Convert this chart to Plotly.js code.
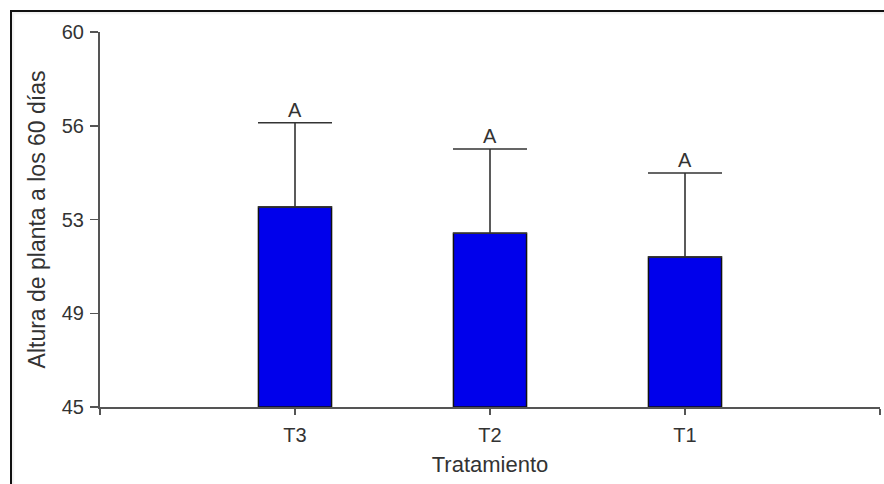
<!DOCTYPE html>
<html>
<head>
<meta charset="utf-8">
<script src="https://cdn.plot.ly/plotly-3.0.1.min.js"></script>
<style>
  html, body { margin: 0; padding: 0; background: #fff; }
  #wrap { position: relative; width: 884px; height: 484px; overflow: hidden; }
  #chart { width: 884px; height: 484px; }
  #frame { position: absolute; left: 10px; top: 10px; width: 900px; height: 500px;
           border-top: 2px solid #111; border-left: 2px solid #111; pointer-events: none;
           box-shadow: inset 2px 2px 2px rgba(0,0,0,0.06); }
</style>
</head>
<body>
<div id="wrap">
  <div id="chart"></div>
  <div id="frame"></div>
</div>
<script>
// Data
const categories = ['T3', 'T2', 'T1'];
const positions = [0, 1, 2];
const means = [53.0, 51.95, 51.0];
const errUp = [3.37, 3.37, 3.36];
const letters = ['A', 'A', 'A'];
const yTickVals = [45, 48.75, 52.5, 56.25, 60];
const yTickText = ['45', '49', '53', '56', '60'];

const textColor = '#333333';
const axisColor = '#555555';
const fontFam = 'Arial, "Liberation Sans", sans-serif';

const trace = {
  type: 'bar',
  x: positions,
  y: means.map(v => v - 45),
  base: 45,
  width: 0.375,
  marker: { color: 'rgb(0,0,235)', line: { color: '#111111', width: 1.5 } },
  error_y: {
    type: 'data', symmetric: false, array: errUp,
    arrayminus: means.map(() => 0),
    color: '#333333', thickness: 1.6, width: 37
  },
  hoverinfo: 'skip'
};

const annotations = positions.map((p, i) => ({
  x: p, y: means[i] + errUp[i], xref: 'x', yref: 'y',
  text: letters[i], showarrow: false, yanchor: 'bottom', yshift: 0,
  font: { family: fontFam, size: 20, color: textColor }
}));

const layout = {
  width: 884, height: 484,
  margin: { l: 100, r: 4, t: 32, b: 77 },
  paper_bgcolor: '#ffffff', plot_bgcolor: '#ffffff',
  showlegend: false,
  font: { family: fontFam, color: textColor },
  xaxis: {
    type: 'linear', range: [-1, 3],
    tickvals: [-1, 0, 1, 2, 3], ticktext: ['', ...categories],
    ticks: 'outside', ticklen: 6, tickwidth: 1.5, tickcolor: axisColor,
    ticklabelstandoff: 3,
    showline: true, linecolor: axisColor, linewidth: 2,
    showgrid: false, zeroline: false,
    tickfont: { family: fontFam, size: 20, color: textColor },
    title: { text: 'Tratamiento', font: { family: fontFam, size: 22, color: textColor }, standoff: 12 }
  },
  yaxis: {
    range: [45, 60],
    tickvals: yTickVals, ticktext: yTickText,
    ticks: 'outside', ticklen: 8, tickwidth: 1.5, tickcolor: axisColor,
    ticklabelstandoff: 2,
    showline: true, linecolor: axisColor, linewidth: 2,
    showgrid: false, zeroline: false,
    tickfont: { family: fontFam, size: 20, color: textColor },
    title: { text: 'Altura de planta a los 60 días', font: { family: fontFam, size: 23, color: textColor }, standoff: 10 }
  },
  annotations: annotations
};

Plotly.newPlot('chart', [trace], layout, { displayModeBar: false, staticPlot: true });
</script>
</body>
</html>
